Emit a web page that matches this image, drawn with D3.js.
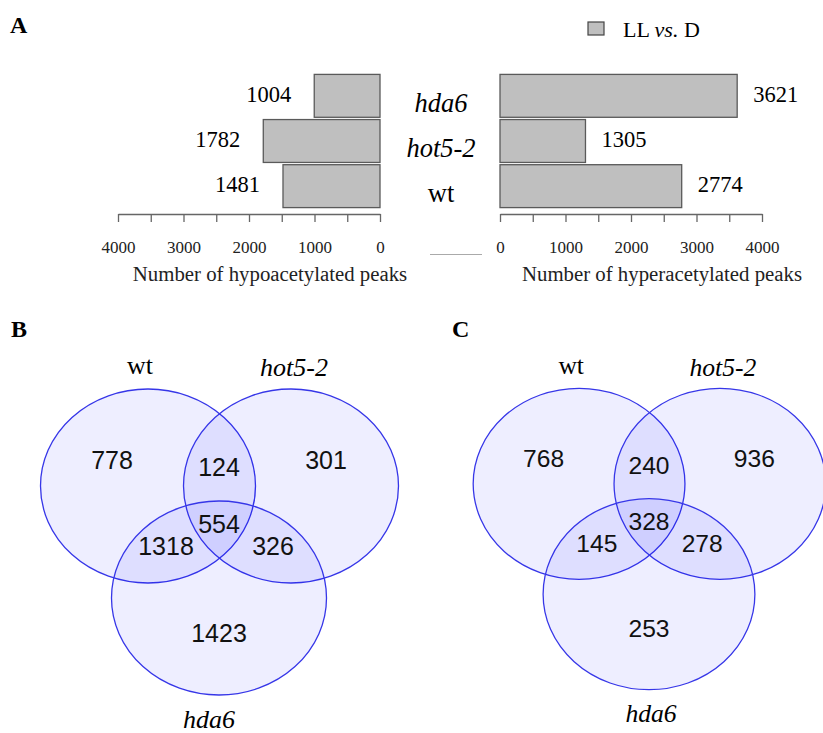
<!DOCTYPE html>
<html>
<head>
<meta charset="utf-8">
<script src="https://cdn.jsdelivr.net/npm/d3@7"></script>
<style>
  body { margin: 0; background: #fff; }
  svg { display: block; }
  .serif { font-family: "Liberation Serif", "Times New Roman", serif; }
  .sans { font-family: "Liberation Sans", Arial, sans-serif; }
  .axis path, .axis line { stroke: #666; stroke-width: 1.3; }
</style>
</head>
<body>
<svg id="chart" width="823" height="733"></svg>
<script>
// panel A data
const genotypes = ["hda6", "hot5-2", "wt"];
const hypoPeaks = [1004, 1782, 1481];
const hyperPeaks = [3621, 1305, 2774];
const tickValues = [0, 500, 1000, 1500, 2000, 2500, 3000, 3500, 4000];
const tickLabels = [0, 1000, 2000, 3000, 4000];
const legendLabel = "LL vs. D";

// panels B & C data (venn region counts)
const setNames = ["wt", "hot5-2", "hda6"];
const regionKeys = ["wt", "wt&hot5-2", "hot5-2", "all", "wt&hda6", "hot5-2&hda6", "hda6"];
const vennB = [778, 124, 301, 554, 1318, 326, 1423];
const vennC = [768, 240, 936, 328, 145, 278, 253];

const svg = d3.select("#chart");
const barFill = "#bfbfbf", barStroke = "#5a5a5a";
const italicNames = new Set(["hda6", "hot5-2"]);

// ---------- panel A ----------
const axisY = 214;
const y = d3.scaleBand().domain(genotypes).range([73.5, 208.5]).paddingInner(0.05).paddingOuter(0.02);
const xL = d3.scaleLinear().domain([0, 4000]).range([380, 118]);
const xR = d3.scaleLinear().domain([0, 4000]).range([500, 762]);

function axisFor(x) {
  return d3.axisBottom(x)
    .tickValues(tickValues)
    .tickSize(8)
    .tickPadding(19)
    .tickSizeOuter(0)
    .tickFormat(d => tickLabels.includes(d) ? d : "");
}

[xL, xR].forEach(x => {
  svg.append("g").attr("class", "axis").attr("transform", `translate(0,${axisY})`)
    .call(axisFor(x))
    .call(g => g.selectAll("text")
      .attr("font-family", "Liberation Serif, Times New Roman, serif")
      .attr("font-size", 17)
      .attr("fill", "#222"));
});

const hypo = genotypes.map((g, i) => ({g, v: hypoPeaks[i]}));
const hyper = genotypes.map((g, i) => ({g, v: hyperPeaks[i]}));

svg.append("g").selectAll("rect").data(hypo).join("rect")
  .attr("x", d => xL(d.v))
  .attr("y", d => y(d.g))
  .attr("width", d => xL(0) - xL(d.v))
  .attr("height", y.bandwidth())
  .attr("fill", barFill).attr("stroke", barStroke).attr("stroke-width", 1.3);

svg.append("g").selectAll("rect").data(hyper).join("rect")
  .attr("x", xR(0))
  .attr("y", d => y(d.g))
  .attr("width", d => xR(d.v) - xR(0))
  .attr("height", y.bandwidth())
  .attr("fill", barFill).attr("stroke", barStroke).attr("stroke-width", 1.3);

svg.append("g").selectAll("text").data(hypo).join("text")
  .attr("class", "serif")
  .attr("x", d => xL(d.v) - 23)
  .attr("y", d => y(d.g) + y.bandwidth() / 2 + 6)
  .attr("text-anchor", "end")
  .attr("font-size", 22.5)
  .text(d => d.v);

svg.append("g").selectAll("text").data(hyper).join("text")
  .attr("class", "serif")
  .attr("x", d => xR(d.v) + 16)
  .attr("y", d => y(d.g) + y.bandwidth() / 2 + 6)
  .attr("text-anchor", "start")
  .attr("font-size", 22.5)
  .text(d => d.v);

// genotype labels in the middle
svg.append("g").selectAll("text").data(genotypes).join("text")
  .attr("class", "serif")
  .attr("x", 441)
  .attr("y", d => y(d) + y.bandwidth() / 2 + 16)
  .attr("text-anchor", "middle")
  .attr("font-size", 26.5)
  .attr("font-style", d => italicNames.has(d) ? "italic" : "normal")
  .text(d => d);

// axis titles
svg.append("text").attr("class", "serif").attr("x", 270).attr("y", 281)
  .attr("text-anchor", "middle").attr("font-size", 20.8).attr("fill", "#222")
  .text("Number of hypoacetylated peaks");
svg.append("text").attr("class", "serif").attr("x", 662).attr("y", 281)
  .attr("text-anchor", "middle").attr("font-size", 20.8).attr("fill", "#222")
  .text("Number of hyperacetylated peaks");

// small grey rule between the axes
svg.append("line").attr("x1", 430).attr("x2", 482).attr("y1", 254.5).attr("y2", 254.5)
  .attr("stroke", "#aaa").attr("stroke-width", 1);

// legend
svg.append("rect").attr("x", 588).attr("y", 22).attr("width", 16).attr("height", 13)
  .attr("fill", barFill).attr("stroke", "#444").attr("stroke-width", 1.2);
const leg = svg.append("text").attr("class", "serif").attr("x", 623).attr("y", 37).attr("font-size", 22);
const legParts = legendLabel.split(" ");
leg.append("tspan").text(legParts[0] + " ");
leg.append("tspan").attr("font-style", "italic").text(legParts[1]);
leg.append("tspan").text(" " + legParts[2]);

// panel letters
[["A", 10, 33], ["B", 11, 337], ["C", 452, 337]].forEach(([t, x, yy]) => {
  svg.append("text").attr("class", "serif").attr("x", x).attr("y", yy)
    .attr("font-size", 24).attr("font-weight", "bold").text(t);
});

// ---------- panels B & C ----------
const circleOffsets = {"wt": [-71, -56], "hot5-2": [72, -56], "hda6": [0, 56]};
const regionOffsets = {
  "wt": [-107, -82], "wt&hot5-2": [0, -75], "hot5-2": [107, -82],
  "all": [0, -18], "wt&hda6": [-53, 4], "hot5-2&hda6": [54, 4], "hda6": [0, 91]
};
const nameOffsets = {"wt": [-79, -168], "hot5-2": [75, -166], "hda6": [0, 186]};

function drawVenn(cx, cy, s, counts, hdaShift) {
  const g = svg.append("g").attr("transform", `translate(${cx},${cy}) scale(${s})`);
  g.selectAll("ellipse").data(setNames).join("ellipse")
    .attr("cx", d => circleOffsets[d][0])
    .attr("cy", d => circleOffsets[d][1])
    .attr("rx", 107.5).attr("ry", 97)
    .attr("fill", "rgb(0,0,255)").attr("fill-opacity", 0.068)
    .attr("stroke", "#3636e8").attr("stroke-width", 1.3);

  g.selectAll("text.count").data(regionKeys).join("text")
    .attr("class", "count sans")
    .attr("x", d => regionOffsets[d][0])
    .attr("y", d => regionOffsets[d][1])
    .attr("dy", "0.35em")
    .attr("text-anchor", "middle")
    .attr("font-size", 25)
    .attr("fill", "#111")
    .text((d, i) => counts[i]);

  g.selectAll("text.name").data(setNames).join("text")
    .attr("class", "name serif")
    .attr("x", d => nameOffsets[d][0] + (d === "hda6" ? hdaShift : 0))
    .attr("y", d => nameOffsets[d][1])
    .attr("text-anchor", "middle")
    .attr("font-size", 26)
    .attr("font-style", d => italicNames.has(d) ? "italic" : "normal")
    .text(d => d);
}

drawVenn(219, 542, 1, vennB, -10);
drawVenn(649, 539, 0.985, vennC, 2);
</script>
</body>
</html>
